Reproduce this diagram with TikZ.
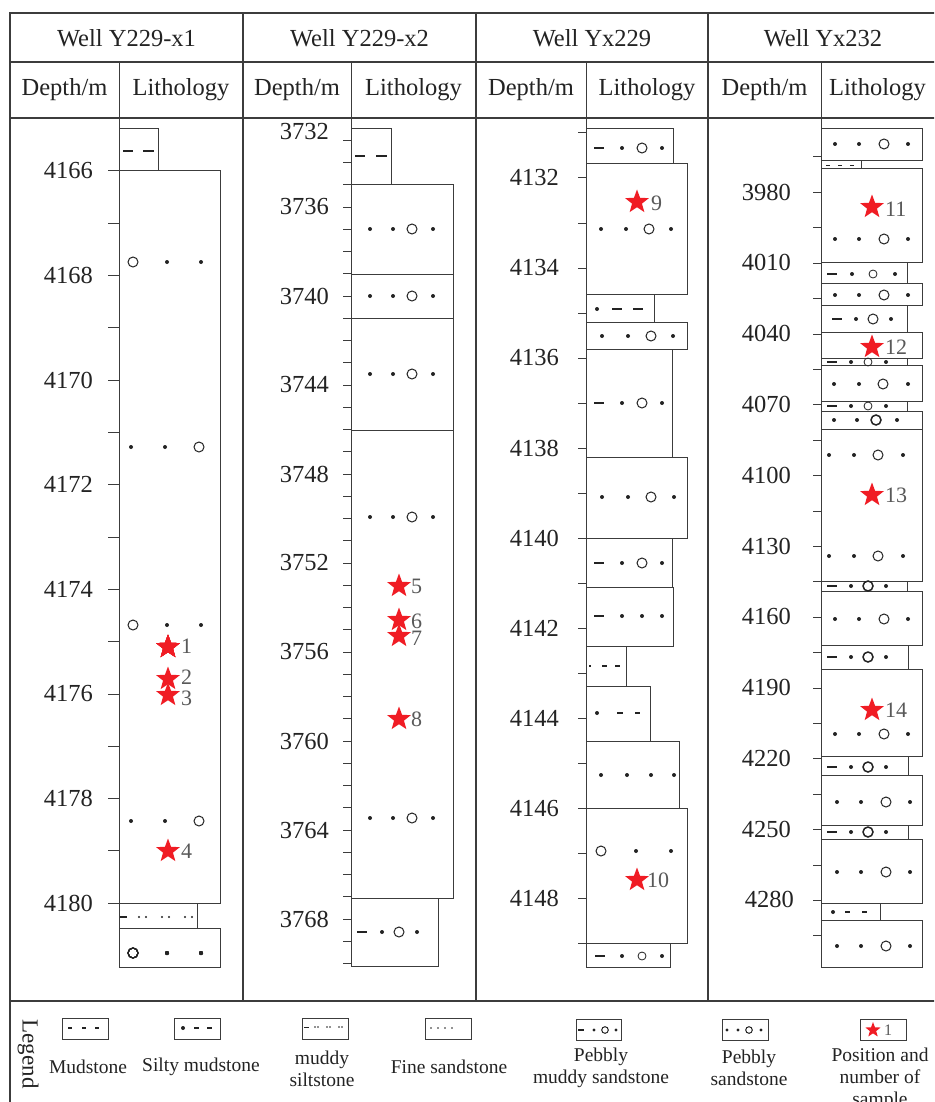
\documentclass[tikz,border=0pt]{standalone}
\usepackage{fontspec}
\setmainfont{Liberation Serif}
\usetikzlibrary{shapes.geometric}
\definecolor{sred}{RGB}{240,28,36}
\definecolor{lc}{RGB}{60,60,60}
\definecolor{tc}{RGB}{35,35,35}
\newcommand\mydot[2]{\fill[tc] (#1,#2) circle[radius=2];}
\newcommand\mysdot[2]{\fill[tc] (#1,#2) circle[radius=1.2];}
\newcommand\mycirc[2]{\draw[tc,line width=1pt] (#1,#2) circle[radius=5];}
\newcommand\mycircs[2]{\draw[tc,line width=0.8pt] (#1,#2) circle[radius=4];}
\newcommand\mycircb[2]{\draw[tc,line width=1.5pt] (#1,#2) circle[radius=5];}
\newcommand\mydash[3]{\draw[tc,line width=1.2pt] (#1,#3) -- (#2,#3);}
\newcommand\pebsd[5]{\mydot{#2}{#1}\mydot{#3}{#1}\mycirc{#4}{#1}\mydot{#5}{#1}}
\newcommand\pebmd[6]{\mydash{#2}{#3}{#1}\mydot{#4}{#1}\mycirc{#5}{#1}\mydot{#6}{#1}}
\newcommand\pebmdb[6]{\mydash{#2}{#3}{#1}\mydot{#4}{#1}\mycircb{#5}{#1}\mydot{#6}{#1}}
\newcommand\pebmds[6]{\mydash{#2}{#3}{#1}\mydot{#4}{#1}\mycircs{#5}{#1}\mydot{#6}{#1}}
\begin{document}
\begin{tikzpicture}[x=1pt,y=-1pt,
  frm/.style={draw=lc, line width=1.1pt},
  lay/.style={draw=lc, line width=1pt},
  tk/.style={draw=lc, line width=1pt},
  hdr/.style={font=\fontsize{24.5}{28}\selectfont, text=tc, inner sep=0},
  dep/.style={font=\fontsize{24.5}{28}\selectfont, text=tc, inner sep=0, anchor=east},
  slab/.style={font=\fontsize{22}{24}\selectfont, text=black!65, inner sep=0, anchor=west},
  leg/.style={font=\fontsize{19.5}{22}\selectfont, text=tc, inner sep=0, align=center},
  sstar/.style={star, star points=5, star point ratio=2.4, fill=sred, draw=none, inner sep=0, minimum size=25pt},
]
\clip (0,0) rectangle (934,1102);
\fill[white] (0,0) rectangle (934,1102);
% frame
\draw[frm] (10,1110) -- (10,13) -- (940,13);
\draw[frm] (10,62) -- (940,62);
\draw[frm] (10,118) -- (940,118);
\draw[frm] (10,1001) -- (940,1001);
\foreach \x in {243,476,708} \draw[frm] (\x,13) -- (\x,1001);
% headers
\node[hdr] (h1) at (126.5,38) {Well Y229-x1};
\node[hdr] (h2) at (359.5,38) {Well Y229-x2};
\node[hdr] (h3) at (592,38) {Well Yx229};
\node[hdr] (h4) at (823,38) {Well Yx232};
\foreach \a/\b/\c [count=\i] in {10/119/243,243/351/476,476/586/708,708/821/934}{
  \node[hdr] (dh\i) at ({(\a+\b)/2},90) {Depth/m};
  \node[hdr] (lh\i) at ({(\b+\c)/2},90) {Lithology};
}
% ===== Well 1 =====
\draw[lay] (119,62) -- (119,967);
\foreach \d in {0,...,14} \draw[tk] (108,{171+\d*52.3}) -- (119,{171+\d*52.3});
\foreach \i in {0,...,7} \node[dep] (wa\i) at (93,{171+\i*104.6}) {\the\numexpr4166+2*\i\relax};
\draw[lay] (119,129) rectangle (158,171);
\draw[lay] (119,171) rectangle (220,903);
\draw[lay] (119,903) rectangle (197,928);
\draw[lay] (119,928) rectangle (220,967);
\mydash{123}{133}{151}\mydash{143}{154}{151}
\mycirc{133}{262}\mydot{167}{262}\mydot{201}{262}
\mydot{131}{447}\mydot{165}{447}\mycirc{199}{447}
\mycirc{133}{625}\mydot{167}{625}\mydot{201}{625}
\mydot{131}{821}\mydot{165}{821}\mycirc{199}{821}
\mydash{120}{127}{917}
\foreach \x in {139,146,162,169,185,192} \mysdot{\x}{917}
\mycirc{133}{953}\mydot{167}{953}\mydot{201}{953}
\node[sstar] (s1) at (168,647) {};
\node[sstar] (s2) at (168,679) {};
\node[sstar] (s3) at (168,695) {};
\node[sstar] (s4) at (168,851) {};
\node[slab] (t1) at (181,646) {1};
\node[slab] (t2) at (181,677) {2};
\node[slab] (t3) at (181,698) {3};
\node[slab] (t4) at (181,851) {4};
% ===== Well 2 =====
\draw[lay] (351,62) -- (351,966);
\foreach \d in {1,...,38} \draw[tk] (343,{118+\d*22.25}) -- (351,{118+\d*22.25});
\node[dep] (wb0) at (329,132) {3732};
\foreach \i in {0,...,8} \node[dep] (wb\i x) at (329,{207+\i*89}) {\the\numexpr3736+4*\i\relax};
\draw[lay] (351,129) rectangle (391,185);
\draw[lay] (351,185) rectangle (453,274);
\draw[lay] (351,274) rectangle (453,318);
\draw[lay] (351,318) rectangle (453,430);
\draw[lay] (351,430) rectangle (453,898);
\draw[lay] (351,898) rectangle (438,966);
\mydash{355}{365}{156}\mydash{376}{387}{156}
\pebsd{229}{370}{393}{412}{433}
\pebsd{296}{370}{393}{412}{433}
\pebsd{374}{370}{393}{412}{433}
\pebsd{517}{370}{393}{412}{433}
\pebsd{818}{370}{393}{412}{433}
\pebmd{932}{357}{367}{382}{399}{417}
\node[sstar] (s5) at (399,586) {};
\node[sstar] (s6) at (399,620) {};
\node[sstar] (s7) at (399,636) {};
\node[sstar] (s8) at (399,719) {};
\node[slab] (t5) at (411,586) {5};
\node[slab] (t6) at (411,621) {6};
\node[slab] (t7) at (411,638) {7};
\node[slab] (t8) at (411,719) {8};
% ===== Well 3 =====
\draw[lay] (586,62) -- (586,967);
\foreach \d in {0,...,18} \draw[tk] (578,{133+\d*45}) -- (586,{133+\d*45});
\foreach \i in {0,...,8} \node[dep] (wc\i) at (559,{178+\i*90}) {\the\numexpr4132+2*\i\relax};
\draw[lay] (586,129) rectangle (673,164);
\draw[lay] (586,164) rectangle (687,294);
\draw[lay] (586,294) rectangle (654,322);
\draw[lay] (586,322) rectangle (687,349);
\draw[lay] (586,349) rectangle (672,457);
\draw[lay] (586,457) rectangle (687,538);
\draw[lay] (586,538) rectangle (672,587);
\draw[lay] (586,587) rectangle (673,646);
\draw[lay] (586,646) rectangle (626,686);
\draw[lay] (586,686) rectangle (650,741);
\draw[lay] (586,741) rectangle (679,808);
\draw[lay] (586,808) rectangle (687,943);
\draw[lay] (586,943) rectangle (670,967);
\pebmd{148}{594}{604}{622}{642}{662}
\pebsd{229}{601}{626}{649}{671}
\mydot{597}{309}\mydash{612}{622}{309}\mydash{633}{643}{309}
\pebsd{336}{602}{628}{651}{673}
\pebmd{403}{594}{604}{622}{642}{662}
\pebsd{497}{602}{628}{651}{674}
\pebmd{563}{594}{604}{622}{642}{662}
\mydash{594}{604}{616}\mydot{622}{616}\mydot{642}{616}\mydot{662}{616}
\mydash{589}{591}{666}\mydash{602}{607}{666}\mydash{615}{620}{666}
\mydot{597}{713}\mydash{617}{623}{713}\mydash{635}{640}{713}
\mydot{601}{775}\mydot{627}{775}\mydot{651}{775}\mydot{674}{775}
\mycirc{601}{851}\mydot{636}{851}\mydot{671}{851}
\pebmds{956}{595}{605}{622}{642}{662}
\node[sstar] (s9) at (637,202) {};
\node[sstar] (s10) at (637,880) {};
\node[slab] (t9) at (651,203) {9};
\node[slab] (t10) at (647,880) {10};
% ===== Well 4 =====
\draw[lay] (821,62) -- (821,967);
\foreach \d in {0,...,22} \draw[tk] (813,{157+\d*35.4}) -- (821,{157+\d*35.4});
\foreach \i in {0,...,9} \node[dep] (wd\i) at (791,{192+\i*70.8}) {\the\numexpr3980+30*\i\relax};
\node[dep] (wd10) at (794,899) {4280};
\draw[lay] (821,129) rectangle (922,161);
\draw[lay] (821,161) rectangle (861,169);
\draw[lay] (821,169) rectangle (922,262);
\draw[lay] (821,262) rectangle (907,283);
\draw[lay] (821,283) rectangle (922,305);
\draw[lay] (821,305) rectangle (907,332);
\draw[lay] (821,332) rectangle (922,358);
\draw[lay] (821,358) rectangle (907,365);
\draw[lay] (821,365) rectangle (922,401);
\draw[lay] (821,401) rectangle (907,411);
\draw[lay] (821,411) rectangle (922,429);
\draw[lay] (821,429) rectangle (922,581);
\draw[lay] (821,581) rectangle (907,591);
\draw[lay] (821,591) rectangle (922,645);
\draw[lay] (821,645) rectangle (908,669);
\draw[lay] (821,669) rectangle (922,756);
\draw[lay] (821,756) rectangle (908,775);
\draw[lay] (821,775) rectangle (922,825);
\draw[lay] (821,825) rectangle (908,839);
\draw[lay] (821,839) rectangle (922,903);
\draw[lay] (821,903) rectangle (880,920);
\draw[lay] (821,920) rectangle (922,967);
\pebsd{144}{835}{859}{884}{908}
\foreach \x in {826,838,850} \draw[tc,line width=0.8pt] (\x,165) -- (\x+4,165);
\pebsd{239}{835}{859}{884}{908}
\pebmds{274}{827}{837}{852}{873}{895}
\pebsd{295}{835}{859}{884}{908}
\pebmd{319}{832}{842}{856}{873}{891}
\pebmds{362}{827}{837}{851}{868}{886}
\pebsd{384}{834}{859}{883}{908}
\pebmds{406}{827}{837}{851}{868}{886}
\mydot{834}{420}\mydot{857}{420}\mycircb{876}{420}\mydot{897}{420}
\pebsd{455}{829}{854}{878}{903}
\pebsd{556}{829}{854}{878}{903}
\pebmdb{586}{827}{837}{851}{868}{886}
\pebsd{619}{835}{859}{884}{908}
\pebmdb{657}{827}{837}{851}{868}{886}
\pebsd{734}{835}{859}{884}{908}
\pebmdb{767}{827}{837}{851}{868}{886}
\pebsd{802}{837}{861}{886}{910}
\pebmdb{832}{827}{837}{851}{868}{886}
\pebsd{872}{837}{861}{886}{910}
\mydot{833}{912}\mydash{845}{850}{912}\mydash{862}{867}{912}
\pebsd{946}{837}{861}{886}{910}
\node[sstar] (s11) at (872,207) {};
\node[sstar] (s12) at (872,347) {};
\node[sstar] (s13) at (872,495) {};
\node[sstar] (s14) at (872,710) {};
\node[slab] (t11) at (885,209) {11};
\node[slab] (t12) at (885,347) {12};
\node[slab] (t13) at (885,495) {13};
\node[slab] (t14) at (885,710) {14};
% ===== Legend =====
\node[font=\fontsize{23}{26}\selectfont, text=tc, inner sep=0, rotate=-90] (lg) at (28,1054) {Legend};
\draw[lay] (62,1018) rectangle (108,1039);
\mydash{68}{72}{1028}\mydash{82}{86}{1028}\mydash{95}{99}{1028}
\node[leg] (lm) at (88,1067) {Mudstone};
\draw[lay] (174,1018) rectangle (220,1039);
\mydot{183}{1028}\mydash{194}{199}{1028}\mydash{207}{212}{1028}
\node[leg] (ls) at (201,1067) {Silty mudstone};
\draw[lay] (302,1018) rectangle (348,1039);
\draw[tc,line width=0.8pt] (304,1027) -- (309,1027);
\foreach \x in {315,318,327,330,339,342} \fill[tc] (\x,1027) circle[radius=0.9];
\node[leg] (lq) at (322,1069) {muddy\\siltstone};
\draw[lay] (425,1018) rectangle (471,1039);
\foreach \x in {431,438,445,452} \fill[tc] (\x,1028) circle[radius=0.9];
\node[leg] (lf) at (449,1067) {Fine sandstone};
\draw[lay] (576,1019) rectangle (621,1040);
\draw[tc,line width=1.2pt] (578,1030) -- (584,1030);
\fill[tc] (594,1030) circle[radius=1.6];
\draw[tc,line width=1pt] (605,1030) circle[radius=3.3];
\fill[tc] (616,1030) circle[radius=1.6];
\node[leg] (lp) at (601,1068) {Pebbly\\muddy sandstone};
\draw[lay] (722,1019) rectangle (768,1040);
\fill[tc] (727,1030) circle[radius=1.6];
\fill[tc] (738,1030) circle[radius=1.6];
\draw[tc,line width=1pt] (749,1030) circle[radius=3.3];
\fill[tc] (761,1030) circle[radius=1.6];
\node[leg] (lps) at (749,1068) {Pebbly\\sandstone};
\draw[lay] (860,1019) rectangle (906,1040);
\node[sstar, minimum size=16pt] (ls1) at (873,1030) {};
\node[slab, font=\fontsize{16}{18}\selectfont] (lt1) at (884,1030) {1};
\node[leg] (lpn) at (880,1079) {Position and\\number of\\sample};
\end{tikzpicture}
\end{document}
